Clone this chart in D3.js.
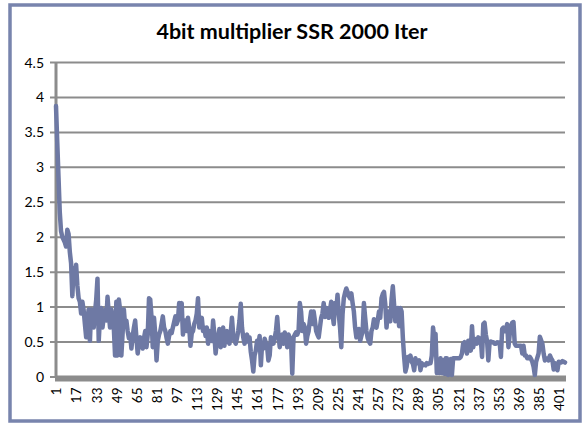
<!DOCTYPE html>
<html>
<head>
<meta charset="utf-8">
<script src="https://cdn.jsdelivr.net/npm/d3@7/dist/d3.min.js"></script>
<style>
  html, body { margin: 0; padding: 0; background: #fff; }
  svg { display: block; }
  .tick text { font-family: Lato, "Open Sans", sans-serif; fill: #000; }
</style>
</head>
<body>
<svg id="chart" width="584" height="425"></svg>
<script>
const chartTitle = "4bit multiplier SSR 2000 Iter";

// SSR value recorded at each sampled iteration (406 samples)
const ssrValues = [
  3.87, 3.35, 2.85, 2.35, 2.08, 2.0, 1.96, 1.92, 1.86, 2.1,
  2.04, 1.78, 1.62, 1.15, 1.55, 1.45, 1.6, 1.3, 1.12, 1.07,
  0.9, 1.07, 0.95, 0.75, 0.56, 0.82, 0.96, 0.51, 0.96, 0.85,
  0.7, 0.92, 1.1, 1.4, 0.51, 0.85, 0.98, 0.7, 0.85, 0.95,
  0.8, 1.14, 0.9, 0.7, 0.96, 0.85, 0.7, 0.3, 1.07, 0.3,
  1.1, 0.95, 0.3, 0.62, 0.96, 0.72, 0.8, 0.65, 0.55, 0.6,
  0.4, 0.58, 0.7, 0.8, 0.55, 0.33, 0.48, 0.56, 0.45, 0.4,
  0.55, 0.65, 0.42, 0.6, 1.12, 1.1, 0.85, 0.42, 0.84, 0.6,
  0.23, 0.51, 0.6, 0.65, 0.75, 0.86, 0.7, 0.65, 0.55, 0.47,
  0.58, 0.65, 0.62, 0.7, 0.78, 0.86, 0.75, 0.8, 1.05, 0.92,
  1.05, 0.6, 0.72, 0.8, 0.65, 0.84, 0.7, 0.44, 0.62, 0.65,
  0.75, 0.8, 0.9, 1.12, 0.7, 0.78, 0.84, 0.65, 0.7, 0.58,
  0.7, 0.47, 0.65, 0.55, 0.51, 0.8, 0.6, 0.33, 0.5, 0.56,
  0.68, 0.42, 0.55, 0.7, 0.44, 0.6, 0.65, 0.5, 0.47, 0.62,
  0.84, 0.6, 0.51, 0.47, 0.55, 0.65, 0.8, 1.04, 0.7, 0.56,
  0.47, 0.55, 0.6, 0.5, 0.56, 0.35, 0.23, 0.07, 0.3, 0.37,
  0.51, 0.45, 0.58, 0.16, 0.47, 0.4, 0.54, 0.48, 0.42, 0.23,
  0.3, 0.56, 0.5, 0.47, 0.55, 0.65, 0.85, 0.6, 0.42, 0.55,
  0.6, 0.47, 0.63, 0.55, 0.42, 0.6, 0.55, 0.51, 0.04, 0.56,
  0.6, 0.63, 0.6, 0.65, 1.05, 0.93, 0.65, 0.75, 0.7, 0.47,
  0.58, 0.65, 0.8, 0.93, 0.75, 0.93, 0.8, 0.65, 0.6, 0.56,
  0.7, 0.84, 0.9, 1.05, 0.85, 0.98, 0.9, 0.84, 0.95, 1.07,
  0.9, 0.75, 1.05, 0.95, 1.17, 0.89, 0.7, 0.42, 0.89, 1.12,
  1.2, 1.26, 1.21, 1.15, 1.12, 1.19, 1.05, 0.93, 0.7, 0.56,
  0.62, 0.68, 0.51, 0.58, 0.65, 1.05, 0.84, 0.65, 0.55, 0.5,
  0.47, 0.65, 0.7, 0.82, 0.75, 0.7, 0.8, 0.93, 0.84, 1.12,
  1.18, 1.21, 1.03, 0.7, 0.93, 0.85, 0.79, 1.1, 1.29, 1.03,
  0.79, 0.9, 0.98, 0.72, 0.98, 0.93, 0.55, 0.28, 0.07, 0.14,
  0.28, 0.25, 0.3, 0.21, 0.18, 0.09, 0.26, 0.19, 0.2, 0.23,
  0.09, 0.19, 0.16, 0.17, 0.16, 0.19, 0.18, 0.19, 0.19, 0.3,
  0.7, 0.55, 0.61, 0.05, 0.21, 0.05, 0.26, 0.05, 0.23, 0.04,
  0.26, 0.26, 0.02, 0.23, 0.25, 0.02, 0.26, 0.26, 0.26, 0.26,
  0.26, 0.26, 0.28, 0.33, 0.47, 0.49, 0.42, 0.33, 0.51, 0.45,
  0.37, 0.72, 0.42, 0.54, 0.5, 0.47, 0.56, 0.5, 0.54, 0.28,
  0.75, 0.77, 0.6, 0.51, 0.23, 0.49, 0.5, 0.49, 0.49, 0.47,
  0.47, 0.49, 0.48, 0.49, 0.28, 0.68, 0.7, 0.65, 0.67, 0.75,
  0.42, 0.6, 0.72, 0.77, 0.78, 0.47, 0.44, 0.44, 0.44, 0.44,
  0.44, 0.33, 0.44, 0.3, 0.3, 0.26, 0.26, 0.28, 0.25, 0.21,
  0.14, 0.02, 0.21, 0.27, 0.33, 0.57, 0.52, 0.47, 0.33, 0.23,
  0.26, 0.25, 0.23, 0.3, 0.26, 0.23, 0.1, 0.19, 0.12, 0.09,
  0.21, 0.2, 0.2, 0.22, 0.21, 0.2
];

// Category labels: sample numbers 1..N
const sampleLabels = ssrValues.map((_, i) => i + 1);

// Category axis shows every 16th sample
const xTickLabels = [1, 17, 33, 49, 65, 81, 97, 113, 129, 145, 161, 177, 193,
  209, 225, 241, 257, 273, 289, 305, 321, 337, 353, 369, 385, 401];

const yTicks = [0, 0.5, 1, 1.5, 2, 2.5, 3, 3.5, 4, 4.5];

const svg = d3.select("#chart");

// Outer frame
svg.append("rect")
  .attr("x", 10).attr("y", 5)
  .attr("width", 570).attr("height", 416)
  .attr("fill", "#fff")
  .attr("stroke", "#7884ad")
  .attr("stroke-width", 3.5);

// Title
svg.append("text")
  .attr("x", 292).attr("y", 39)
  .attr("text-anchor", "middle")
  .attr("font-family", "Lato, 'Open Sans', sans-serif")
  .attr("font-weight", "bold")
  .attr("font-size", 21.5)
  .attr("fill", "#000")
  .text(chartTitle);

const plot = { left: 56, right: 565, top: 62, bottom: 376.5 };

const x = d3.scalePoint()
  .domain(sampleLabels)
  .range([plot.left, plot.right]);

const y = d3.scaleLinear()
  .domain([0, 4.5])
  .range([plot.bottom, plot.top]);

// Horizontal gridlines with short tick stubs and value labels
const yAxis = svg.append("g")
  .attr("transform", `translate(${plot.left},0)`)
  .call(d3.axisLeft(y)
    .tickValues(yTicks)
    .tickSize(-(plot.right - plot.left))
    .tickPadding(12)
    .tickFormat(d3.format("")));
yAxis.select(".domain").remove();
yAxis.selectAll(".tick line")
  .attr("x1", -6)
  .attr("stroke", "#8c8c8c")
  .attr("stroke-width", 2);
yAxis.selectAll(".tick text")
  .attr("font-size", 14)
  .attr("dy", "0.36em");

// Vertical value axis line
svg.append("line")
  .attr("x1", plot.left).attr("x2", plot.left)
  .attr("y1", plot.top).attr("y2", plot.bottom)
  .attr("stroke", "#8c8c8c")
  .attr("stroke-width", 3);

// Category axis: thick base band and rotated labels
const xAxis = svg.append("g")
  .attr("transform", `translate(0,${plot.bottom + 3})`)
  .call(d3.axisBottom(x)
    .tickValues(xTickLabels)
    .tickSize(0)
    .tickPadding(0));
xAxis.select(".domain").remove();
xAxis.selectAll(".tick text")
  .attr("font-size", 13.5)
  .attr("transform", "rotate(-90)")
  .attr("text-anchor", "end")
  .attr("x", -8)
  .attr("y", 0)
  .attr("dy", "0.36em");

svg.append("line")
  .attr("x1", plot.left - 1).attr("x2", plot.right + 1)
  .attr("y1", y(0) + 2).attr("y2", y(0) + 2)
  .attr("stroke", "#8c8c8c")
  .attr("stroke-width", 6);

// SSR series
const line = d3.line()
  .x((d, i) => x(sampleLabels[i]))
  .y(d => y(d));

svg.append("path")
  .datum(ssrValues)
  .attr("fill", "none")
  .attr("stroke", "#6e79a4")
  .attr("stroke-width", 4.5)
  .attr("stroke-linejoin", "round")
  .attr("stroke-linecap", "round")
  .attr("d", line);
</script>
</body>
</html>
